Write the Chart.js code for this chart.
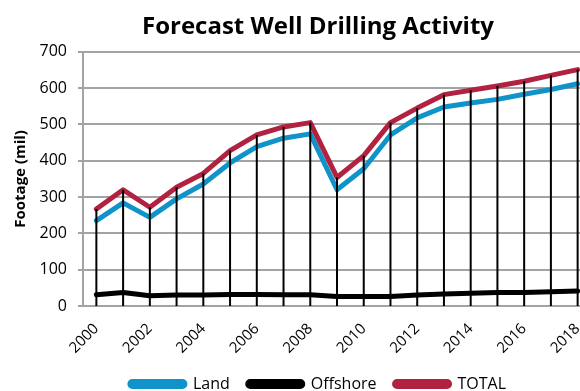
<!DOCTYPE html>
<html>
<head>
<meta charset="utf-8">
<script src="https://cdn.jsdelivr.net/npm/chart.js@4.4.1/dist/chart.umd.min.js"></script>
<style>
  html, body { margin: 0; padding: 0; overflow: hidden; background: #fff; width: 580px; height: 391px; }
  #wrap { width: 636px; height: 402px; position: relative; }
</style>
</head>
<body>
<div id="wrap"><canvas id="chart"></canvas></div>
<script>
const years = ["2000", "2001", "2002", "2003", "2004", "2005", "2006", "2007", "2008", "2009",
  "2010", "2011", "2012", "2013", "2014", "2015", "2016", "2017", "2018"];
const land = [235, 284, 244, 295, 336, 394, 439, 462, 474, 320,
  378, 471, 518, 548, 559, 569, 583, 596, 612];
const offshore = [31, 37, 28, 30, 30, 32, 32, 31, 31, 26,
  26, 26, 30, 33, 35, 37, 37, 39, 41];
const total = [267, 320, 272, 327, 365, 428, 471, 493, 505, 354,
  414, 505, 545, 582, 594, 606, 619, 635, 651];
const yTicks = [0, 100, 200, 300, 400, 500, 600, 700];

const fontFamily = "'Open Sans', sans-serif";
const gridGray = "#a3a3a3";

// black drop lines from the TOTAL points down to zero
const dropLines = {
  id: "dropLines",
  afterDatasetsDraw(chart) {
    const meta = chart.getDatasetMeta(2);
    const yScale = chart.scales.y;
    const base = yScale.getPixelForValue(0);
    const ctx = chart.ctx;
    ctx.save();
    ctx.strokeStyle = "#000";
    ctx.lineWidth = 2;
    meta.data.forEach((pt) => {
      ctx.beginPath();
      ctx.moveTo(pt.x, pt.y);
      ctx.lineTo(pt.x, base);
      ctx.stroke();
    });
    ctx.restore();
  }
};

const ctx = document.getElementById("chart").getContext("2d");
new Chart(ctx, {
  type: "line",
  data: {
    labels: years,
    datasets: [
      { label: "Land", data: land, borderColor: "#0f93c8", backgroundColor: "#0f93c8", order: 1 },
      { label: "Offshore", data: offshore, borderColor: "#000000", backgroundColor: "#000000", order: 2 },
      { label: "TOTAL", data: total, borderColor: "#b02240", backgroundColor: "#b02240", order: 0 }
    ]
  },
  options: {
    responsive: true,
    maintainAspectRatio: false,
    animation: false,
    elements: {
      point: { radius: 0 },
      line: { borderWidth: 5, tension: 0, borderCapStyle: "round", borderJoinStyle: "round" }
    },
    layout: { padding: 0 },
    plugins: {
      tooltip: { enabled: false },
      title: {
        display: true,
        text: "Forecast Well Drilling Activity",
        color: "#000",
        font: { family: fontFamily, size: 24, weight: "bold" },
        padding: { top: 13, bottom: 10 }
      },
      legend: {
        position: "bottom",
        labels: {
          sort: (a, b) => a.datasetIndex - b.datasetIndex,
          color: "#000",
          font: { family: fontFamily, size: 16 },
          boxWidth: 55,
          boxHeight: 5,
          useBorderRadius: true,
          borderRadius: 2.5,
          padding: 18
        }
      }
    },
    scales: {
      x: {
        offset: true,
        grid: { display: false, drawTicks: false },
        border: { color: gridGray, width: 2 },
        ticks: {
          color: "#000",
          font: { family: fontFamily, size: 15 },
          autoSkip: false,
          minRotation: 45,
          maxRotation: 45,
          padding: 14,
          callback: function (value, index) {
            return index % 2 === 0 ? years[index] : "";
          }
        },
        afterFit: (scale) => { scale.height = 52; }
      },
      y: {
        min: 0,
        max: 700,
        afterBuildTicks: (scale) => { scale.ticks = yTicks.map((v) => ({ value: v })); },
        grid: { color: gridGray, lineWidth: 2, tickLength: 5 },
        border: { color: gridGray, width: 2 },
        ticks: {
          color: "#000",
          font: { family: fontFamily, size: 16 },
          padding: 11
        },
        title: {
          display: true,
          text: "Footage (mil)",
          color: "#000",
          font: { family: fontFamily, size: 15, weight: "bold" },
          padding: { top: 12, bottom: 0 }
        },
        afterFit: (scale) => { scale.width = 83; }
      },
      y2: {
        type: "linear",
        position: "right",
        grid: { display: false, drawTicks: false },
        border: { display: false },
        ticks: { display: false },
        afterFit: (scale) => { scale.width = 45; }
      }
    }
  },
  plugins: [dropLines]
});
</script>
</body>
</html>
